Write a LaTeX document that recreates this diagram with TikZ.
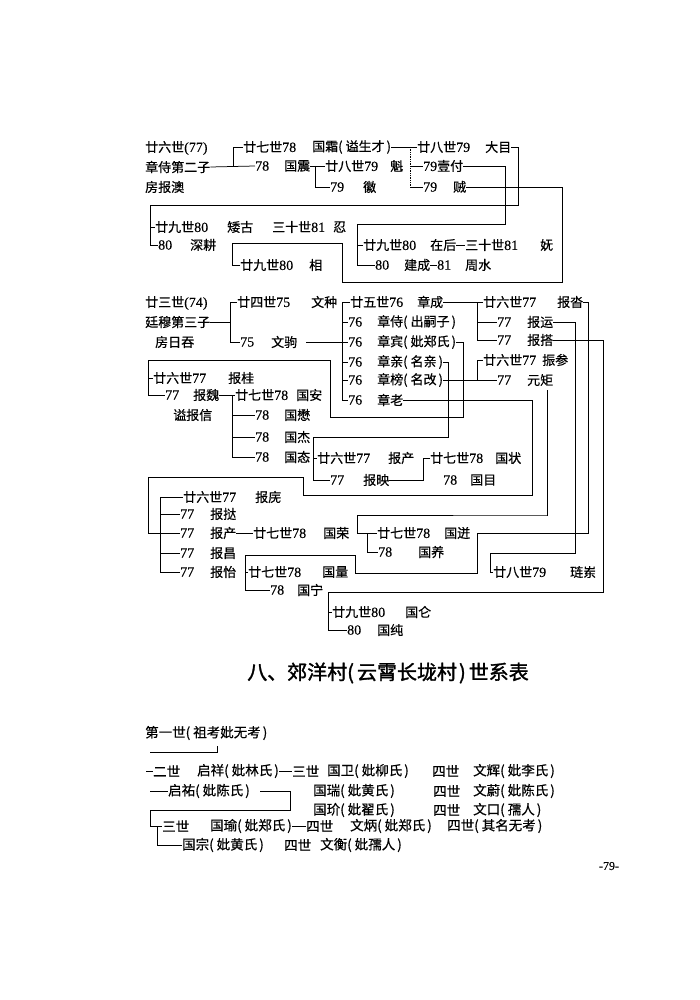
\documentclass[tikz,border=0pt]{standalone}
\usepackage{fontspec}
\newfontfamily\cjk{Noto Sans CJK SC}[FakeBold=0.5]
\newfontfamily\cjkb{Noto Sans CJK SC}[FakeBold=1.6]
\newfontfamily\numf{Liberation Serif}[FakeBold=0.3]
\newcommand\nm[1]{{\numf\fontsize{14}{14}\selectfont #1}}
\newcommand\kuo[1]{(\hspace{3pt}#1\hspace{2pt})}
\tikzset{
  txt/.style={anchor=west,inner sep=0pt,font=\cjk\fontsize{13}{13}\selectfont},
  txs/.style={anchor=west,inner sep=0pt,font=\cjk\fontsize{13.5}{13.5}\selectfont},
  conn/.style={draw,line width=0.75pt},
}
\begin{document}
\begin{tikzpicture}[x=1pt,y=-1pt]
\useasboundingbox (0,0) rectangle (700,1000);
\fill[white] (0,0) rectangle (700,1000);
% upper table
\node[txt] (a1) at (145,148) {廿六世\nm{(77)}};
\node[txt] (a2) at (145,167) {章侍第二子};
\node[txt] (a3) at (145,187) {房报澳};
\node[txt] (g27a) at (243,147) {廿七世\nm{78}};
\node[txt] (guoshuang) at (312,147) {国霜\kuo{谥生才}};
\node[txt] (n78a) at (255,166) {\nm{78}};
\node[txt] (guozhen) at (284,166) {国震};
\node[txt] (g28a) at (325,166) {廿八世\nm{79}};
\node[txt] (kui) at (390,166) {魁};
\node[txt] (n79a) at (330,187) {\nm{79}};
\node[txt] (hui) at (363,187) {徽};
\node[txt] (g28b) at (417,147) {廿八世\nm{79}};
\node[txt] (damu) at (485,147) {大目};
\node[txt] (yifu) at (423,166) {\nm{79}壹付};
\node[txt] (n79c) at (423,187) {\nm{79}};
\node[txt] (zei) at (453,187) {贼};
\node[txt] (g29a) at (155,227) {廿九世\nm{80}};
\node[txt] (aigu) at (227,227) {矮古};
\node[txt] (g30a) at (272,227) {三十世\nm{81}};
\node[txt] (ren) at (333,227) {忍};
\node[txt] (n80a) at (158,245) {\nm{80}};
\node[txt] (shengeng) at (190,245) {深耕};
\node[txt] (g29b) at (240,265) {廿九世\nm{80}};
\node[txt] (xiang) at (309,265) {相};
\node[txt] (g29c) at (363,245) {廿九世\nm{80}};
\node[txt] (zaihou) at (430,245) {在后};
\node[txt] (g30b) at (465,245) {三十世\nm{81}};
\node[txt] (wu) at (540,245) {妩};
\node[txt] (n80c) at (375,265) {\nm{80}};
\node[txt] (jiancheng) at (404,265) {建成};
\node[txt] (n81) at (437,265) {\nm{81}};
\node[txt] (zhoushui) at (465,265) {周水};
\coordinate (bx1) at (233,0);
\draw[conn] (a2.east) -- (n78a.west);
\draw[conn] (a2.east -| bx1) |- (g27a.west);
\coordinate (bx2) at (410,0);
\draw[conn] (guoshuang.east) -- (g28b.west);
\draw[conn,densely dotted] (guoshuang.east -| bx2) -- (n79c.west -| bx2);
\draw[conn] (n79c.west -| bx2) -- (n79c.west);
\draw[conn] (yifu.west -| bx2) -- (yifu.west);
\coordinate (bx3) at (315,0);
\draw[conn] (guozhen.east) -- (g28a.west);
\draw[conn] (guozhen.east -| bx3) |- (n79a.west);
\coordinate (r1) at (518,205);
\coordinate (bx4) at (150,0);
\draw[conn] (damu.east) -| (r1) -- (r1 -| bx4) |- (n80a.west);
\draw[conn] (g29a.west -| bx4) -- (g29a.west);
\coordinate (r2) at (505,224);
\coordinate (bx5) at (357,0);
\draw[conn] (yifu.east) -| (r2) -- (r2 -| bx5) |- (n80c.west);
\draw[conn] (g29c.west -| bx5) -- (g29c.west);
\coordinate (r3) at (562,282);
\coordinate (r4) at (342,243);
\coordinate (r5) at (232,243);
\draw[conn] (zei.east) -| (r3) -| (r4) -- (r5) |- (g29b.west);
\draw[conn] (zaihou.east) -- (g30b.west);
\draw[conn] (jiancheng.east) -- (n81.west);
% middle table
\node[txt] (b1) at (145,303) {廿三世\nm{(74)}};
\node[txt] (b2) at (145,322) {廷穆第三子};
\node[txt] (b3) at (155,342) {房日吞};
\node[txt] (g24) at (237,302) {廿四世\nm{75}};
\node[txt] (wenzhong) at (311,302) {文种};
\node[txt] (n75) at (240,342) {\nm{75}};
\node[txt] (wenju) at (271,342) {文驹};
\node[txt] (g25) at (350,302) {廿五世\nm{76}};
\node[txt] (zhangcheng) at (417,302) {章成};
\node[txt] (n76b) at (348,322) {\nm{76}};
\node[txt] (zhangshi) at (377,322) {章侍\kuo{出嗣子}};
\node[txt] (n76c) at (348,342) {\nm{76}};
\node[txt] (zhangbin) at (377,342) {章宾\kuo{妣郑氏}};
\node[txt] (n76d) at (348,362) {\nm{76}};
\node[txt] (zhangqin) at (377,362) {章亲\kuo{名亲}};
\node[txt] (n76e) at (348,380) {\nm{76}};
\node[txt] (zhangbang) at (377,380) {章榜\kuo{名改}};
\node[txt] (n76f) at (348,400) {\nm{76}};
\node[txt] (zhanglao) at (377,400) {章老};
\node[txt] (g26a) at (483,302) {廿六世\nm{77}};
\node[txt] (baota) at (557,302) {报沓};
\node[txt] (n77a) at (497,322) {\nm{77}};
\node[txt] (baoyun) at (527,322) {报运};
\node[txt] (n77b) at (497,340) {\nm{77}};
\node[txt] (baoda) at (527,340) {报搭};
\node[txt] (g26b) at (483,360) {廿六世\nm{77}};
\node[txt] (zhencan) at (542,360) {振参};
\node[txt] (n77d) at (497,380) {\nm{77}};
\node[txt] (yuanju) at (527,380) {元矩};
\node[txt] (g26c) at (153,378) {廿六世\nm{77}};
\node[txt] (baogui) at (228,378) {报桂};
\node[txt] (n77e) at (165,395) {\nm{77}};
\node[txt] (baowei) at (193,395) {报魏};
\node[txt] (shibaoxin) at (173,415) {谥报信};
\node[txt] (g27b) at (235,395) {廿七世\nm{78}};
\node[txt] (guoan) at (296,395) {国安};
\node[txt] (n78b) at (255,415) {\nm{78}};
\node[txt] (guomao) at (284,415) {国懋};
\node[txt] (n78c) at (255,437) {\nm{78}};
\node[txt] (guojie) at (284,437) {国杰};
\node[txt] (n78d) at (255,457) {\nm{78}};
\node[txt] (guotai) at (284,457) {国态};
\node[txt] (g26d) at (317,458) {廿六世\nm{77}};
\node[txt] (baochanA) at (388,458) {报产};
\node[txt] (n77f) at (330,480) {\nm{77}};
\node[txt] (baoying) at (363,480) {报映};
\node[txt] (g27c) at (430,458) {廿七世\nm{78}};
\node[txt] (guozhuang) at (495,458) {国状};
\node[txt] (n78e) at (443,480) {\nm{78}};
\node[txt] (guomu) at (470,480) {国目};
\node[txt] (g26e) at (183,497) {廿六世\nm{77}};
\node[txt] (baopang) at (255,497) {报庑};
\node[txt] (n77h) at (180,514) {\nm{77}};
\node[txt] (baota2) at (210,514) {报挞};
\node[txt] (n77i) at (180,533) {\nm{77}};
\node[txt] (baochanB) at (210,533) {报产};
\node[txt] (g27d) at (253,533) {廿七世\nm{78}};
\node[txt] (guorong) at (323,533) {国荣};
\node[txt] (n77j) at (180,553) {\nm{77}};
\node[txt] (baochang) at (210,553) {报昌};
\node[txt] (n77k) at (180,572) {\nm{77}};
\node[txt] (baoyi) at (210,572) {报怡};
\node[txt] (g27e) at (248,572) {廿七世\nm{78}};
\node[txt] (guoliang) at (322,572) {国量};
\node[txt] (n78h) at (270,590) {\nm{78}};
\node[txt] (guoning) at (297,590) {国宁};
\node[txt] (g27f) at (377,533) {廿七世\nm{78}};
\node[txt] (guobeng) at (444,533) {国迸};
\node[txt] (n78g) at (378,552) {\nm{78}};
\node[txt] (guoyang) at (418,552) {国养};
\node[txt] (g28c) at (493,572) {廿八世\nm{79}};
\node[txt] (lianxiu) at (570,572) {琏岽};
\node[txt] (g29d) at (332,612) {廿九世\nm{80}};
\node[txt] (guolun) at (405,612) {国仑};
\node[txt] (n80d) at (347,630) {\nm{80}};
\node[txt] (guochun) at (377,630) {国纯};
\coordinate (bx6) at (230,0);
\draw[conn] (b2.east) -| (bx6 |- g24.west) -- (g24.west);
\draw[conn] (g24.west -| bx6) |- (n75.west);
\coordinate (bx7) at (342,0);
\draw[conn] ([xshift=9pt]wenju.east) -- (n76c.west);
\draw[conn] (g25.west -| bx7) -- (g25.west);
\draw[conn] (g25.west -| bx7) |- (n76f.west);
\foreach \k in {n76b,n76d,n76e} \draw[conn] (\k.west -| bx7) -- (\k.west);
\coordinate (bx8) at (477,0);
\draw[conn] (zhangcheng.east) -- (g26a.west);
\draw[conn] (zhangcheng.east -| bx8) |- (n77b.west);
\draw[conn] (n77a.west -| bx8) -- (n77a.west);
\draw[conn] (zhangbang.east) -- (n77d.west);
\draw[conn] (zhangbang.east -| bx8) |- (g26b.west);
\coordinate (r6) at (463,417);
\coordinate (r7) at (330,360);
\coordinate (bx9) at (148,0);
\draw[conn] (zhangbin.east) -| (r6) -| (r7) -- (r7 -| bx9) |- (n77e.west);
\draw[conn] (g26c.west -| bx9) -- (g26c.west);
\coordinate (r8) at (448,437);
\coordinate (bx10) at (313,0);
\draw[conn] (zhangqin.east) -| (r8) -- (r8 -| bx10) |- (n77f.west);
\draw[conn] (g26d.west -| bx10) -- (g26d.west);
\coordinate (bx11) at (423,0);
\draw[conn] (baoying.east) -| (bx11 |- g27c.west) -- (g27c.west);
\coordinate (r9) at (532,495);
\coordinate (r10) at (303,477);
\draw[conn] (zhanglao.east) -| (r9) -| (r10) -- (r10 -| bx9) |- (n77i.west);
\coordinate (bx12) at (160,0);
\draw[conn] (g26e.west -| bx12) -- (g26e.west);
\draw[conn] (g26e.west -| bx12) |- (n77k.west);
\foreach \k in {n77h,n77j} \draw[conn] (\k.west -| bx12) -- (\k.west);
\coordinate (bx13) at (232,0);
\draw[conn] (baowei.east) -- (g27b.west);
\draw[conn] (baowei.east -| bx13) |- (n78d.west);
\foreach \k in {n78b,n78c} \draw[conn] (\k.west -| bx13) -- (\k.west);
\draw[conn] (baochanB.east) -- (g27d.west);
\coordinate (r11) at (547,515);
\coordinate (bx14) at (357,0);
\coordinate (bx15) at (367,0);
\draw[conn] ([xshift=7pt,yshift=-4pt]yuanju.south) |- (r11) -| (bx14 |- g27f.west) -- (g27f.west);
\draw[conn] (g27f.west -| bx15) |- (n78g.west);
\coordinate (r12) at (588,533);
\coordinate (r13) at (477,573);
\coordinate (r14) at (355,555);
\coordinate (bx16) at (245,0);
\draw[conn] (baota.east) -| (r12) -| (r13) -| (r14) -- (r14 -| bx16) |- (n78h.west);
\draw[conn] (g27e.west -| bx16) -- (g27e.west);
\coordinate (r15) at (575,553);
\coordinate (bx17) at (490,0);
\draw[conn] (baoyun.east) -| (r15) -| (bx17 |- g28c.west) -- (g28c.west);
\coordinate (r16) at (603,592);
\coordinate (bx18) at (328,0);
\draw[conn] (baoda.east) -| (r16) -- (r16 -| bx18) |- (n80d.west);
\draw[conn] (g29d.west -| bx18) -- (g29d.west);
% title
\node[inner sep=0pt,font=\cjkb\fontsize{20}{20}\selectfont] (title) at (388,673) {八、郊洋村\kuo{云霄长垅村}\hspace{3pt}世系表};
% lower table
\node[txs] (c0) at (145,733) {第一世\kuo{祖考妣无考}};
\node[txs] (er) at (153,771) {二世};
\node[txs] (qixiang) at (197,771) {启祥\kuo{妣林氏}};
\node[txs] (san1) at (292,771) {三世};
\node[txs] (guowei) at (327,771) {国卫\kuo{妣柳氏}};
\node[txs] (si1) at (432,771) {四世};
\node[txs] (wenhui) at (473,771) {文辉\kuo{妣李氏}};
\node[txs] (qiyou) at (168,791) {启祐\kuo{妣陈氏}};
\node[txs] (guorui) at (313,791) {国瑞\kuo{妣黄氏}};
\node[txs] (si2) at (433,791) {四世};
\node[txs] (wenwei) at (473,791) {文蔚\kuo{妣陈氏}};
\node[txs] (guojie2) at (313,810) {国玠\kuo{妣翟氏}};
\node[txs] (si3) at (433,810) {四世};
\node[txs] (wenkou) at (473,810) {文口\kuo{孺人}};
\node[txs] (san2) at (162,826) {三世};
\node[txs] (guoyu) at (210,826) {国瑜\kuo{妣郑氏}};
\node[txs] (si4) at (306,826) {四世};
\node[txs] (wenbing) at (350,826) {文炳\kuo{妣郑氏}};
\node[txs] (si5) at (447,826) {四世\kuo{其名无考}};
\node[txs] (guozong) at (182,845) {国宗\kuo{妣黄氏}};
\node[txs] (si6) at (284,845) {四世};
\node[txs] (wenheng) at (320,845) {文衡\kuo{妣孺人}};
\coordinate (s1) at (150,752);
\coordinate (s2) at (217,746);
\draw[conn] (s1) -| (s2);
\coordinate (s3) at (146,771);
\draw[conn] (s3) -- (er.west);
\coordinate (s4) at (150,791);
\draw[conn] (s4) -- (qiyou.west);
\draw[conn] (qixiang.east) -- (san1.west);
\coordinate (r20) at (290,810);
\coordinate (bx20) at (150,0);
\coordinate (bx21) at (157,0);
\draw[conn] ([xshift=10pt]qiyou.east) -| (r20) -- (r20 -| bx20) |- (san2.west);
\draw[conn] (san2.west -| bx21) |- (guozong.west);
\draw[conn] (guoyu.east) -- (si4.west);
\node[inner sep=0pt,font=\numf\fontsize{12}{12}\selectfont] (pg) at (609,866) {-79-};
\end{tikzpicture}
\end{document}
